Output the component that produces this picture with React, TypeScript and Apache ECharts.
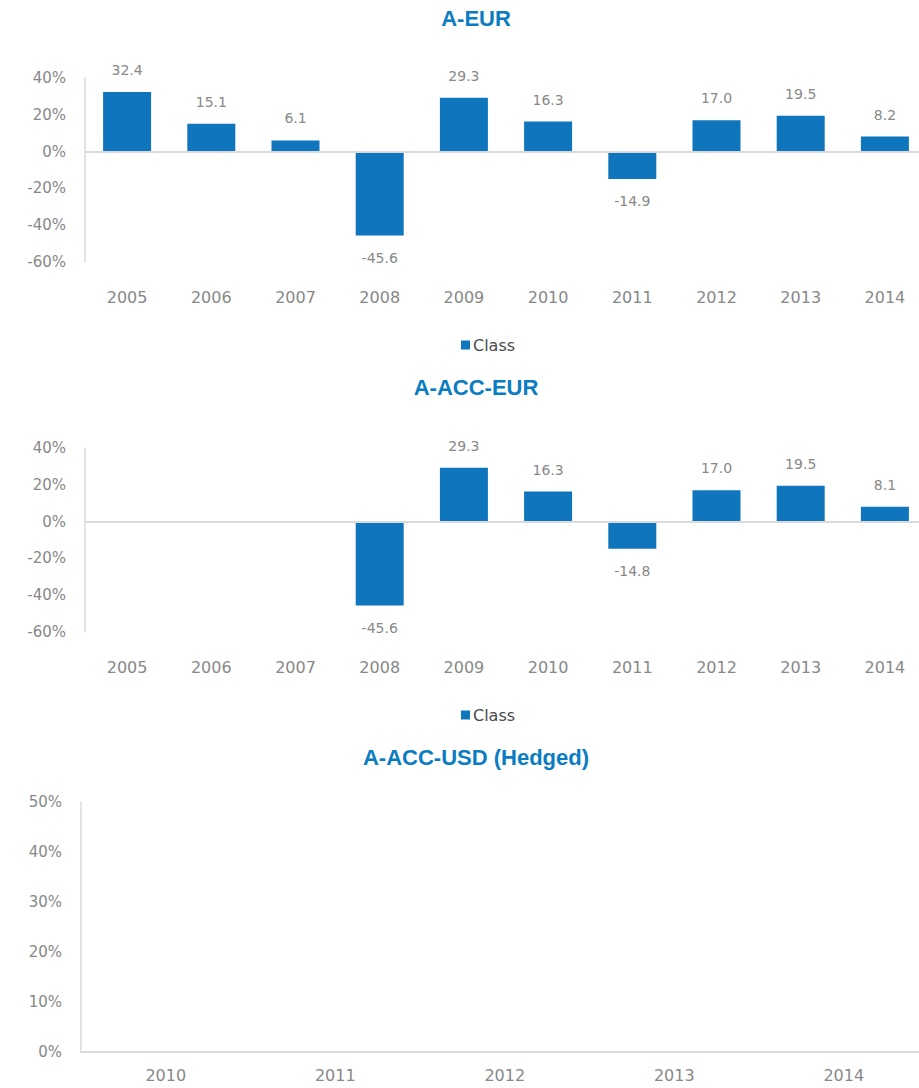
import React, { useEffect, useRef } from "react";
import * as echarts from "echarts";

const years = ["2005", "2006", "2007", "2008", "2009", "2010", "2011", "2012", "2013", "2014"];
const aEur = [32.4, 15.1, 6.1, -45.6, 29.3, 16.3, -14.9, 17.0, 19.5, 8.2];
const aAccEur = [null, null, null, -45.6, 29.3, 16.3, -14.8, 17.0, 19.5, 8.1];
const hedgedYears = ["2010", "2011", "2012", "2013", "2014"];
const hedgedValues: (number | null)[] = [null, null, null, null, null];
const titles = ["A-EUR", "A-ACC-EUR", "A-ACC-USD (Hedged)"];
const seriesName = "Class";

const BLUE = "#0f75bd";
const TITLE_BLUE = "#0a7cc2";
const AXIS_GREY = "#dadada";
const LABEL_GREY = "#888888";
const FONT = "DejaVu Sans";

export default function App() {
  const ref = useRef<HTMLDivElement>(null);
  useEffect(() => {
    if (!ref.current) return;
    const chart = echarts.init(ref.current, undefined, { renderer: "svg" });

    const yAxisBase = {
      type: "value" as const,
      axisLine: { show: true, lineStyle: { color: AXIS_GREY, width: 1.5 } },
      axisTick: { show: false },
      splitLine: { show: false },
      axisLabel: {
        formatter: "{value}%",
        color: LABEL_GREY,
        fontSize: 15,
        fontFamily: FONT,
        margin: 19,
      },
    };
    const xAxisBar = (gridIndex: number) => ({
      type: "category" as const,
      gridIndex,
      data: years,
      position: "bottom" as const,
      axisLine: { show: false, onZero: false },
      axisTick: { show: false },
      axisLabel: { color: LABEL_GREY, fontSize: 16, fontFamily: FONT, margin: 27 },
    });
    const barSeries = (idx: number, data: (number | null)[]) => ({
      type: "bar" as const,
      name: seriesName,
      xAxisIndex: idx,
      yAxisIndex: idx,
      data,
      barWidth: "57%",
      itemStyle: { color: BLUE },
      label: {
        show: true,
        position: "outside" as any,
        distance: 15,
        color: LABEL_GREY,
        fontSize: 14,
        fontFamily: FONT,
        formatter: (p: any) => (p.value == null ? "" : Number(p.value).toFixed(1)),
      },
      markLine: {
        silent: true,
        symbol: ["none", "none"],
        label: { show: false },
        lineStyle: { color: AXIS_GREY, width: 2, type: "solid" },
        data: [{ yAxis: 0 }],
      },
    });

    const legendBase = {
      data: [seriesName],
      left: 456,
      icon: "rect",
      itemWidth: 9,
      itemHeight: 9,
      itemGap: 4,
      textStyle: { color: "#4a4a4a", fontSize: 16, fontFamily: FONT, padding: [0, 0, 0, -2] },
    };

    const titleY = [18, 387, 757];
    const option: any = {
      animation: false,
      textStyle: { fontFamily: FONT },
      graphic: titles.map((t, i) => ({
        type: "text",
        x: 476,
        y: titleY[i],
        style: {
          text: t,
          fill: TITLE_BLUE,
          fontSize: 22,
          fontWeight: "bold",
          fontFamily: "Liberation Sans",
          align: "center",
          verticalAlign: "middle",
        },
      })),
      legend: [
        { ...legendBase, top: 332 },
        { ...legendBase, top: 702 },
      ],
      grid: [
        { left: 85, top: 78, width: 842, height: 184 },
        { left: 85, top: 448, width: 842, height: 184 },
        { left: 81, top: 802, width: 847.5, height: 250 },
      ],
      xAxis: [
        xAxisBar(0),
        xAxisBar(1),
        {
          type: "category",
          gridIndex: 2,
          data: hedgedYears,
          axisLine: { show: true, lineStyle: { color: AXIS_GREY, width: 2 } },
          axisTick: { show: false },
          axisLabel: { color: LABEL_GREY, fontSize: 16, fontFamily: FONT, margin: 15 },
        },
      ],
      yAxis: [
        { ...yAxisBase, gridIndex: 0, min: -60, max: 40, interval: 20 },
        { ...yAxisBase, gridIndex: 1, min: -60, max: 40, interval: 20 },
        { ...yAxisBase, gridIndex: 2, min: 0, max: 50, interval: 10 },
      ],
      series: [
        barSeries(0, aEur),
        barSeries(1, aAccEur),
        {
          type: "bar",
          name: "Hedged",
          xAxisIndex: 2,
          yAxisIndex: 2,
          data: hedgedValues,
          itemStyle: { color: BLUE },
        },
      ],
    };
    chart.setOption(option);
    return () => chart.dispose();
  }, []);

  return (
    <div style={{ position: "absolute", left: 0, top: 0, width: 919, height: 1088, overflow: "hidden", background: "#fff" }}>
      <div ref={ref} style={{ width: 940, height: 1088 }} />
    </div>
  );
}
